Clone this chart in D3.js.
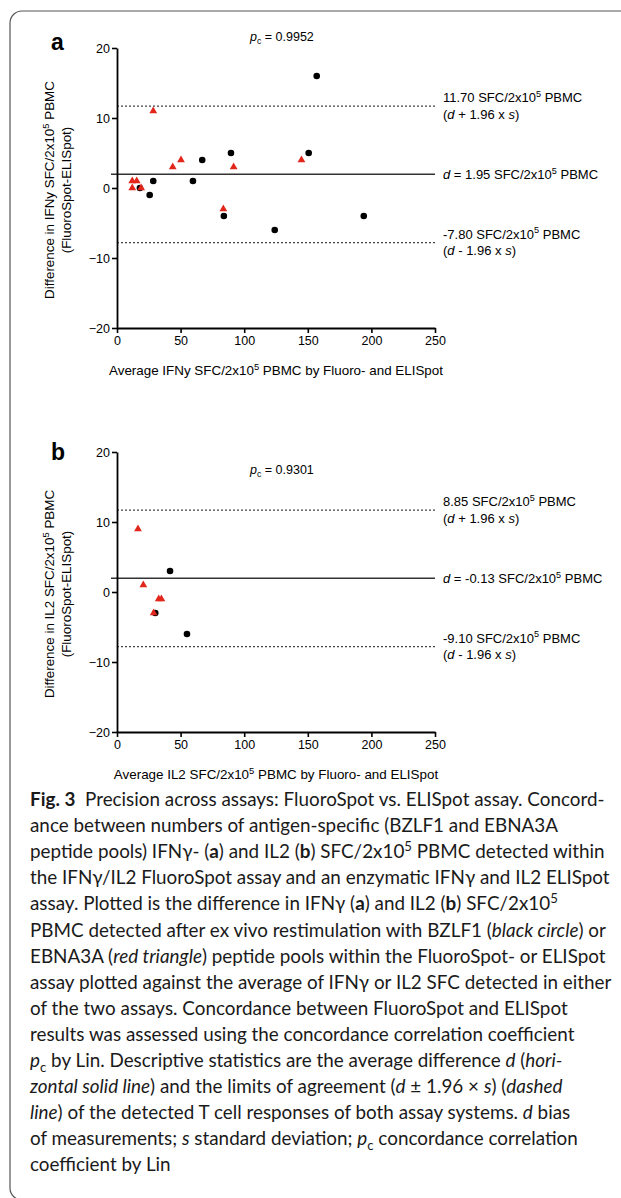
<!DOCTYPE html>
<html>
<head>
<meta charset="utf-8">
<script src="https://cdn.jsdelivr.net/npm/d3@7"></script>
<style>
  body { margin: 0; background: #fff; }
  svg { display: block; }
  .chart text { font-family: "Liberation Sans", Arial, sans-serif; fill: #000; }
  .caption text { font-family: Lato, "Noto Sans", sans-serif; fill: #1a1a1a; }
</style>
</head>
<body>
<svg width="621" height="1198"></svg>
<script>
// ---- data ----
var xTicks = [0, 50, 100, 150, 200, 250];
var yTicks = [-20, -10, 0, 10, 20];

// panel a: IFNy
var aCircleX = [18, 25.7, 28.5, 59.7, 67, 84, 89.6, 124, 150.7, 157, 194];
var aCircleY = [0, -1, 1, 1, 4, -4, 5, -6, 5, 16, -4];
var aTriX = [12, 15.5, 12, 19, 28.5, 43.8, 50.3, 83.6, 91.7, 145];
var aTriY = [1, 1, 0, 0, 11, 3, 4, -3, 3, 4];
var aLines = [11.70, 1.95, -7.80];          // upper limit, bias, lower limit
var aLabels = ["11.70", "1.95", "-7.80"];

// panel b: IL2 (lines sit where the figure draws them)
var bCircleX = [41.7, 30.1, 55];
var bCircleY = [3, -3, -6];
var bTriX = [16.5, 20.7, 32.8, 34.9, 28.8];
var bTriY = [9, 1, -1, -1, -3];
var bLines = [11.70, 1.95, -7.80];
var bLabels = ["8.85", "-0.13", "-9.10"];

var svg = d3.select("svg");

// frame with rounded top-left corner
svg.append("path")
  .attr("d", "M621,11 H22 A12,12 0 0 0 10,23 V1188 A12,12 0 0 0 22,1200")
  .attr("fill", "none")
  .attr("stroke", "#555")
  .attr("stroke-width", 1.2);

function rich(t, segs, fs) {
  var shift = 0;
  segs.forEach(function(s) {
    var kind = s[0], str = s[1];
    var ts = t.append("tspan").text(str);
    var target = kind == "sup" ? -0.4 * fs : kind == "sub" ? 0.25 * fs : 0;
    if (target != shift) { ts.attr("dy", target - shift); shift = target; }
    if (kind == "sup" || kind == "sub") ts.attr("font-size", fs * 0.7);
    if (kind == "b") ts.attr("font-weight", "bold");
    if (kind == "i") ts.style("font-style", "italic");
  });
}

function drawPanel(opt) {
  var g = svg.append("g").attr("class", "chart");
  var x = d3.scaleLinear().domain([0, 250]).range([117, 435]);
  var y = d3.scaleLinear().domain([-20, 20]).range([opt.top + 280, opt.top]);
  var fs = 13.4;   // titles
  var ls = 13;     // right-hand labels

  // panel letter
  g.append("text").attr("x", 51).attr("y", opt.letterY)
    .attr("font-size", 23).attr("font-weight", "bold").text(opt.letter);

  // p_c
  var pc = g.append("text").attr("x", 250).attr("y", opt.pcY).attr("font-size", 12.5);
  rich(pc, [["i", "p"], ["sub", "c"], ["n", " = " + opt.pc]], 12.5);

  // limit lines
  var dashed = [opt.lines[0], opt.lines[2]];
  g.selectAll(".lim").data(dashed).enter().append("line")
    .attr("x1", x(0)).attr("x2", x(250))
    .attr("y1", function(d) { return y(d); })
    .attr("y2", function(d) { return y(d); })
    .attr("stroke", "#444").attr("stroke-width", 1.3)
    .attr("stroke-dasharray", "2,2");
  g.append("line")
    .attr("x1", x(0) - 6).attr("x2", x(250))
    .attr("y1", y(opt.lines[1])).attr("y2", y(opt.lines[1]))
    .attr("stroke", "#333").attr("stroke-width", 1.5);

  // right-hand labels
  var lx = x(250) + 8;
  var sfc = [["n", " SFC/2x10"], ["sup", "5"], ["n", " PBMC"]];
  var t1 = g.append("text").attr("x", lx).attr("y", y(opt.lines[0]) - 4).attr("font-size", ls);
  rich(t1, [["n", opt.labels[0]]].concat(sfc), ls);
  var t2 = g.append("text").attr("x", lx).attr("y", y(opt.lines[0]) + 12.5).attr("font-size", ls);
  rich(t2, [["n", "("], ["i", "d"], ["n", " + 1.96 x "], ["i", "s"], ["n", ")"]], ls);
  var t3 = g.append("text").attr("x", lx).attr("y", y(opt.lines[1]) + 4.5).attr("font-size", ls);
  rich(t3, [["i", "d"], ["n", " = " + opt.labels[1]]].concat(sfc), ls);
  var t4 = g.append("text").attr("x", lx).attr("y", y(opt.lines[2]) - 4).attr("font-size", ls);
  rich(t4, [["n", opt.labels[2]]].concat(sfc), ls);
  var t5 = g.append("text").attr("x", lx).attr("y", y(opt.lines[2]) + 12.5).attr("font-size", ls);
  rich(t5, [["n", "("], ["i", "d"], ["n", " - 1.96 x "], ["i", "s"], ["n", ")"]], ls);

  // axes
  var yAxis = g.append("g").attr("transform", "translate(" + x(0) + ",0)")
    .call(d3.axisLeft(y).tickValues(yTicks).tickSize(5).tickSizeOuter(0).tickPadding(2));
  var xAxis = g.append("g").attr("transform", "translate(0," + y(-20) + ")")
    .call(d3.axisBottom(x).tickValues(xTicks).tickSize(5).tickSizeOuter(0).tickPadding(3));
  [xAxis, yAxis].forEach(function(a) {
    a.select(".domain").attr("stroke", "#000").attr("stroke-width", 1.8);
    a.selectAll(".tick line").attr("stroke", "#000").attr("stroke-width", 1.6);
    a.selectAll(".tick text").attr("font-size", 12.5)
      .attr("font-family", "Liberation Sans, Arial, sans-serif").attr("fill", "#000");
  });

  // axis titles
  var yt = g.append("text").attr("font-size", fs).attr("text-anchor", "middle")
    .attr("transform", "translate(54," + (y(0) + 2) + ") rotate(-90)");
  rich(yt, [["n", "Difference in " + opt.name]].concat(sfc), fs);
  g.append("text").attr("font-size", fs).attr("text-anchor", "middle")
    .attr("transform", "translate(71," + (y(0) + 2) + ") rotate(-90)")
    .text("(FluoroSpot-ELISpot)");
  var xt = g.append("text").attr("font-size", fs).attr("text-anchor", "middle")
    .attr("x", x(125)).attr("y", y(-20) + 47);
  rich(xt, [["n", "Average " + opt.name + " SFC/2x10"], ["sup", "5"], ["n", " PBMC by Fluoro- and ELISpot"]], fs);

  // points: circles first, triangles over them
  g.selectAll(".dot").data(opt.cx).enter().append("circle")
    .attr("cx", function(d) { return x(d); })
    .attr("cy", function(d, i) { return y(opt.cy[i]); })
    .attr("r", 3.3).attr("fill", "#000");
  var tri = d3.symbol().type(d3.symbolTriangle).size(26);
  g.selectAll(".tri").data(opt.tx).enter().append("path")
    .attr("d", tri)
    .attr("transform", function(d, i) { return "translate(" + x(d) + "," + y(opt.ty[i]) + ")"; })
    .attr("fill", "#e2261c");
}

drawPanel({ top: 48, letter: "a", letterY: 50, pc: "0.9952", pcY: 41, name: "IFNy",
  cx: aCircleX, cy: aCircleY, tx: aTriX, ty: aTriY, lines: aLines, labels: aLabels });
drawPanel({ top: 452, letter: "b", letterY: 460, pc: "0.9301", pcY: 474, name: "IL2",
  cx: bCircleX, cy: bCircleY, tx: bTriX, ty: bTriY, lines: bLines, labels: bLabels });

// caption
var captionLines = [
  [["b", "Fig. 3"], ["n", "  Precision across assays: FluoroSpot vs. ELISpot assay. Concord-"]],
  [["n", "ance between numbers of antigen-specific (BZLF1 and EBNA3A"]],
  [["n", "peptide pools) IFNγ- ("], ["b", "a"], ["n", ") and IL2 ("], ["b", "b"], ["n", ") SFC/2x10"], ["sup", "5"], ["n", " PBMC detected within"]],
  [["n", "the IFNγ/IL2 FluoroSpot assay and an enzymatic IFNγ and IL2 ELISpot"]],
  [["n", "assay. Plotted is the difference in IFNγ ("], ["b", "a"], ["n", ") and IL2 ("], ["b", "b"], ["n", ") SFC/2x10"], ["sup", "5"]],
  [["n", "PBMC detected after ex vivo restimulation with BZLF1 ("], ["i", "black circle"], ["n", ") or"]],
  [["n", "EBNA3A ("], ["i", "red triangle"], ["n", ") peptide pools within the FluoroSpot- or ELISpot"]],
  [["n", "assay plotted against the average of IFNγ or IL2 SFC detected in either"]],
  [["n", "of the two assays. Concordance between FluoroSpot and ELISpot"]],
  [["n", "results was assessed using the concordance correlation coefficient"]],
  [["i", "p"], ["sub", "c"], ["n", " by Lin. Descriptive statistics are the average difference "], ["i", "d"], ["n", " ("], ["i", "hori-"]],
  [["i", "zontal solid line"], ["n", ") and the limits of agreement ("], ["i", "d"], ["n", " ± 1.96 × "], ["i", "s"], ["n", ") ("], ["i", "dashed"]],
  [["i", "line"], ["n", ") of the detected T cell responses of both assay systems. "], ["i", "d"], ["n", " bias"]],
  [["n", "of measurements; "], ["i", "s"], ["n", " standard deviation; "], ["i", "p"], ["sub", "c"], ["n", " concordance correlation"]],
  [["n", "coefficient by Lin"]]
];

var cap = svg.append("g").attr("class", "caption");
var capSize = 17;
var capTexts = captionLines.map(function(segs, i) {
  var t = cap.append("text").attr("x", 30).attr("y", 806 + i * 26.1)
    .attr("font-size", capSize).attr("xml:space", "preserve");
  rich(t, segs, capSize);
  return t;
});
// fit the first line to the width it takes in the figure (about 575px)
var w0 = capTexts[0].node().getComputedTextLength();
capSize = capSize * 575 / w0;
cap.selectAll("text").remove();
captionLines.forEach(function(segs, i) {
  var t = cap.append("text").attr("x", 30).attr("y", 806 + i * 26.1)
    .attr("font-size", capSize).attr("xml:space", "preserve");
  rich(t, segs, capSize);
});
</script>
</body>
</html>
